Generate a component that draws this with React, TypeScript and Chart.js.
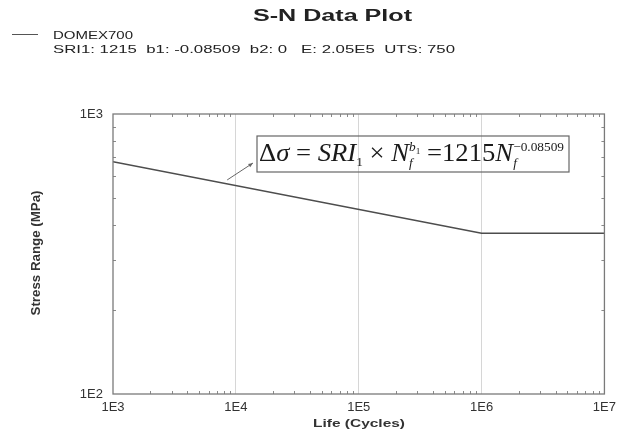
import { useEffect, useRef } from "react";
import { Chart, registerables } from "chart.js";

Chart.register(...registerables);

// ---- data ----
const lifeCycles = [1e3, 1e6, 1e7];
const stressRange = [675, 375, 375];
const xTickValues = [1e3, 1e4, 1e5, 1e6, 1e7];
const xTickLabels = ["1E3", "1E4", "1E5", "1E6", "1E7"];
const yTickValues = [1e2, 1e3];
const yTickLabels = ["1E2", "1E3"];
const chartTitle = "S-N Data Plot";
const seriesName = "DOMEX700";
const seriesParams = "SRI1: 1215  b1: -0.08509  b2: 0   E: 2.05E5  UTS: 750";
const xAxisTitle = "Life (Cycles)";
const yAxisTitle = "Stress Range (MPa)";
const eqCoefficient = "1215";
const eqExponent = "\u22120.08509";
const arrowAnchorLife = 8500;

const SANS = '"Liberation Sans", Arial, sans-serif';
const SERIF = '"Liberation Serif", "Times New Roman", serif';

function fitText(ctx: CanvasRenderingContext2D, text: string, x: number, y: number, font: string, width: number, color: string) {
  ctx.save();
  ctx.font = font;
  ctx.fillStyle = color;
  ctx.textAlign = "left";
  ctx.textBaseline = "alphabetic";
  const w = ctx.measureText(text).width;
  ctx.translate(x, y);
  ctx.scale(width / w, 1);
  ctx.fillText(text, 0, 0);
  ctx.restore();
}

function drawEquation(ctx: CanvasRenderingContext2D, x0: number, baseY: number, targetW: number) {
  const s = 26, m = 13, t = 9;
  const run = (draw: boolean) => {
    let x = 0;
    const put = (txt: string, style: string, size: number, dy: number, adv = true) => {
      ctx.font = `${style} ${size}px ${SERIF}`;
      const w = ctx.measureText(txt).width;
      if (draw) ctx.fillText(txt, x, dy);
      if (adv) x += w;
      return w;
    };
    put("\u0394", "", s, 0);
    put("\u03C3", "italic", s, 0);
    put(" = ", "", s, 0);
    put("SRI", "italic", s, 0);
    put("1", "", m, 5);
    put(" \u00D7 ", "", s, 0);
    put("N", "italic", s, 0);
    {
      const xs = x;
      const wb = put("b", "italic", m, -10);
      const w1 = put("1", "", t, -7);
      const wsup = wb + w1;
      x = xs;
      const wf = put("f", "italic", m, 6, false);
      x = xs + Math.max(wsup, wf);
    }
    put(" =", "", s, 0);
    put(eqCoefficient, "", s, 0);
    put("N", "italic", s, 0);
    {
      const xs = x;
      const wsup = put(eqExponent, "", m, -10);
      x = xs;
      const wf = put("f", "italic", m, 6, false);
      x = xs + Math.max(wsup, wf);
    }
    return x;
  };
  ctx.save();
  ctx.fillStyle = "#1a1a1a";
  ctx.textBaseline = "alphabetic";
  ctx.textAlign = "left";
  const nat = run(false);
  ctx.translate(x0, baseY);
  ctx.scale(targetW / nat, 1);
  run(true);
  ctx.restore();
}

const decorPlugin = {
  id: "decor",
  afterDraw(chart: any) {
    const ctx: CanvasRenderingContext2D = chart.ctx;
    const { left, right, top, bottom } = chart.chartArea;
    const xs = chart.scales.x;
    const ys = chart.scales.y;

    // minor ticks
    ctx.save();
    ctx.strokeStyle = "#8a8a8a";
    ctx.lineWidth = 1;
    ctx.beginPath();
    for (let d = 3; d < 7; d++) {
      for (let k = 2; k <= 9; k++) {
        const px = Math.round(xs.getPixelForValue(k * Math.pow(10, d))) + 0.5;
        ctx.moveTo(px, bottom);
        ctx.lineTo(px, bottom - 3);
        ctx.moveTo(px, top);
        ctx.lineTo(px, top + 3);
      }
    }
    for (let k = 2; k <= 9; k++) {
      const py = Math.round(ys.getPixelForValue(k * 100)) + 0.5;
      ctx.moveTo(left, py);
      ctx.lineTo(left + 3, py);
      ctx.moveTo(right, py);
      ctx.lineTo(right - 3, py);
    }
    ctx.stroke();
    ctx.strokeStyle = "#7a7a7a";
    ctx.lineWidth = 1.3;
    ctx.strokeRect(left, top, right - left, bottom - top);
    ctx.restore();

    // title + legend
    fitText(ctx, chartTitle, 253, 21, `bold 16px ${SANS}`, 159, "#222");
    ctx.save();
    ctx.strokeStyle = "#555";
    ctx.lineWidth = 1;
    ctx.beginPath();
    ctx.moveTo(12, 34.5);
    ctx.lineTo(38, 34.5);
    ctx.stroke();
    ctx.restore();
    fitText(ctx, seriesName, 53, 39, `11px ${SANS}`, 80, "#222");
    fitText(ctx, seriesParams, 53, 53, `11px ${SANS}`, 402, "#222");

    // axis titles
    fitText(ctx, xAxisTitle, 313, 427, `bold 11px ${SANS}`, 92, "#333");
    ctx.save();
    ctx.translate(40, 253);
    ctx.rotate(-Math.PI / 2);
    ctx.font = `bold 11px ${SANS}`;
    const w = ctx.measureText(yAxisTitle).width;
    ctx.scale(125 / w, 1.1);
    ctx.fillStyle = "#333";
    ctx.textAlign = "left";
    ctx.fillText(yAxisTitle, -w / 2, 0);
    ctx.restore();

    // equation annotation
    const bx = 257, by = 136, bw = 312, bh = 36;
    ctx.save();
    ctx.strokeStyle = "#666";
    ctx.lineWidth = 1.2;
    ctx.strokeRect(bx, by, bw, bh);
    ctx.restore();
    drawEquation(ctx, bx + 2, 161, 305);

    // arrow from the line to the box
    const ax = xs.getPixelForValue(arrowAnchorLife);
    const p0x = xs.getPixelForValue(lifeCycles[0]);
    const p1x = xs.getPixelForValue(lifeCycles[1]);
    const p0y = ys.getPixelForValue(stressRange[0]);
    const p1y = ys.getPixelForValue(stressRange[1]);
    const ay = p0y + ((ax - p0x) / (p1x - p0x)) * (p1y - p0y) - 4;
    const hx = bx - 4, hy = by + 27;
    ctx.save();
    ctx.strokeStyle = "#666";
    ctx.fillStyle = "#666";
    ctx.lineWidth = 1;
    ctx.beginPath();
    ctx.moveTo(ax, ay);
    ctx.lineTo(hx, hy);
    ctx.stroke();
    const ang = Math.atan2(hy - ay, hx - ax);
    ctx.beginPath();
    ctx.moveTo(hx, hy);
    ctx.lineTo(hx - 5 * Math.cos(ang - 0.4), hy - 5 * Math.sin(ang - 0.4));
    ctx.lineTo(hx - 5 * Math.cos(ang + 0.4), hy - 5 * Math.sin(ang + 0.4));
    ctx.closePath();
    ctx.fill();
    ctx.restore();
  },
};

export default function App() {
  const ref = useRef<HTMLCanvasElement | null>(null);
  useEffect(() => {
    if (!ref.current) return;
    const chart = new Chart(ref.current, {
      type: "line",
      data: {
        datasets: [
          {
            label: seriesName,
            data: lifeCycles.map((x, i) => ({ x, y: stressRange[i] })),
            borderColor: "#4d4d4d",
            borderWidth: 1.6,
            pointRadius: 0,
            tension: 0,
            fill: false,
          },
        ],
      },
      options: {
        animation: false,
        responsive: false,
        layout: { padding: { top: 114, right: 16, left: 0, bottom: 0 } },
        plugins: { legend: { display: false }, title: { display: false }, tooltip: { enabled: false } },
        scales: {
          x: {
            type: "logarithmic",
            min: 1e3,
            max: 1e7,
            afterBuildTicks: (s: any) => {
              s.ticks = xTickValues.map((v) => ({ value: v }));
            },
            afterFit: (s: any) => {
              s.height = 38;
            },
            ticks: {
              autoSkip: false,
              maxRotation: 0,
              padding: 6,
              color: "#333",
              font: { family: SANS, size: 13 },
              callback: (v: any) => xTickLabels[xTickValues.indexOf(Number(v))] ?? "",
            },
            grid: {
              drawTicks: false,
              color: (c: any) =>
                c.tick && (c.tick.value === 1e3 || c.tick.value === 1e7) ? "rgba(0,0,0,0)" : "#d6d6d6",
              lineWidth: 1,
            },
            border: { display: false },
          },
          y: {
            type: "logarithmic",
            min: 1e2,
            max: 1e3,
            afterBuildTicks: (s: any) => {
              s.ticks = yTickValues.map((v) => ({ value: v }));
            },
            afterFit: (s: any) => {
              s.width = 113;
            },
            ticks: {
              autoSkip: false,
              padding: 10,
              color: "#333",
              font: { family: SANS, size: 13 },
              callback: (v: any) => yTickLabels[yTickValues.indexOf(Number(v))] ?? "",
            },
            grid: { display: false, drawTicks: false },
            border: { display: false },
          },
        },
      },
      plugins: [decorPlugin],
    } as any);
    return () => chart.destroy();
  }, []);
  return (
    <div style={{ position: "absolute", left: 0, top: 0, width: 622, height: 432, background: "#fff" }}>
      <canvas ref={ref} width={622} height={432} style={{ display: "block" }} />
    </div>
  );
}
